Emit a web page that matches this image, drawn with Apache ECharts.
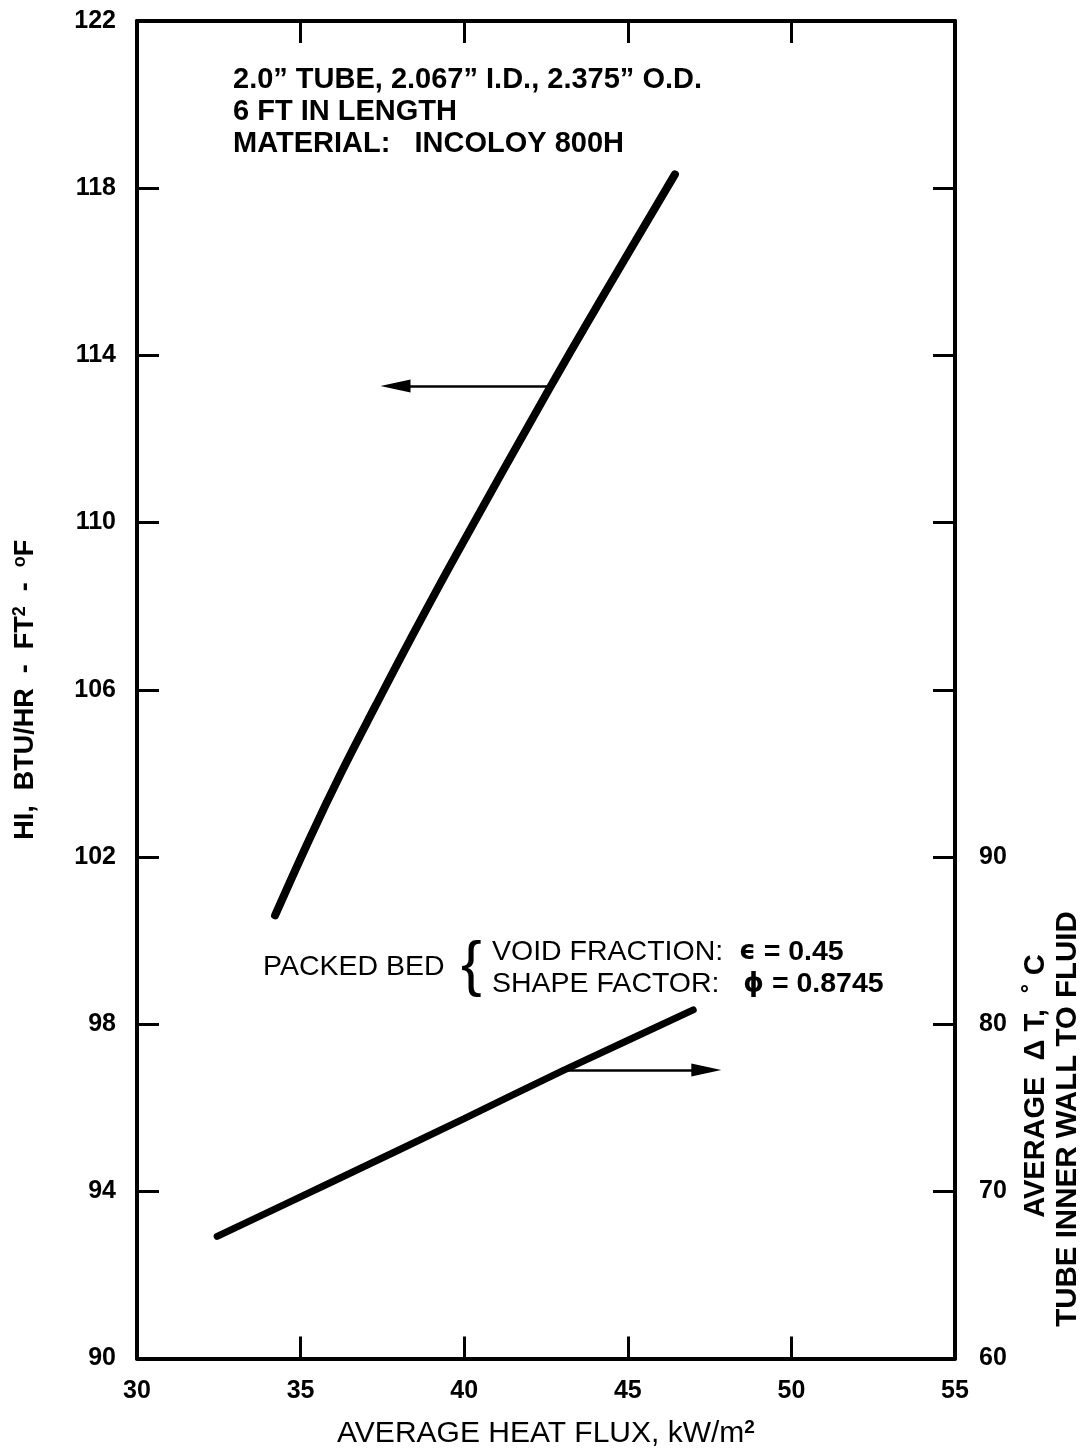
<!DOCTYPE html>
<html>
<head>
<meta charset="utf-8">
<script src="https://cdn.jsdelivr.net/npm/echarts@6/dist/echarts.min.js"></script>
<style>
html,body{margin:0;padding:0;background:#fff;}
#chart{width:1090px;height:1454px;}
</style>
</head>
<body>
<div id="chart"></div>
<script>
// ---- data ----
const xTicks = [30, 35, 40, 45, 50, 55];
const leftTicks = [90, 94, 98, 102, 106, 110, 114, 118, 122];
const rightTickLabels = [60, 70, 80, 90];
// HI (left axis) vs average heat flux
const hiCurve = [[34.22,100.6],[35.29,102.46],[36.27,104.06],[37.30,105.63],[38.37,107.23],[39.74,109.21],[42.65,113.27],[44.31,115.51],[46.44,118.33]];
// average delta T (right axis) vs average heat flux
const dtCurve = [[32.45,67.3],[36.0,70.6],[40.0,74.35],[43.0,77.2],[47.0,80.85]];
// pointer arrows (from curve towards its axis)
const hiArrow = [[42.65,113.27],[37.9,113.27]];
const dtArrow = [[43.0,77.25],[47.4,77.25]];

const FF = '"Liberation Sans", Arial, Helvetica, sans-serif';
const chart = echarts.init(document.getElementById('chart'), null, {renderer:'canvas'});

const axisLine = {show:true, onZero:false, lineStyle:{color:'#000', width:4}};
const axisTick = {show:true, inside:true, length:22, lineStyle:{color:'#000', width:3}};
const tickLabel = {color:'#000', fontSize:25, fontWeight:'bold', fontFamily:FF};

const option = {
  animation:false,
  backgroundColor:'#fff',
  grid:{left:137, right:135, top:21, bottom:92, containLabel:false},
  xAxis:[
    {type:'value', position:'bottom', min:xTicks[0], max:xTicks[xTicks.length-1], interval:5,
     axisLine, axisTick, splitLine:{show:false},
     axisLabel:Object.assign({margin:20}, tickLabel),
     name:'AVERAGE HEAT FLUX, kW/m{sup|2}', nameLocation:'middle', nameGap:60,
     nameTextStyle:{color:'#000', fontSize:30, fontFamily:FF, fontWeight:'normal',
       rich:{sup:{fontSize:19, fontWeight:'bold', verticalAlign:'top', padding:[0,0,12,0], fontFamily:FF, color:'#000'}}}},
    {type:'value', position:'top', min:xTicks[0], max:xTicks[xTicks.length-1], interval:5,
     axisLine, axisTick, splitLine:{show:false}, axisLabel:{show:false}}
  ],
  yAxis:[
    {type:'value', position:'left', min:leftTicks[0], max:leftTicks[leftTicks.length-1], interval:4,
     axisLine, axisTick, splitLine:{show:false},
     axisLabel:Object.assign({margin:21}, tickLabel),
     name:'HI,  BTU/HR  -  FT{sup|2}  -  {sup|o}F', nameLocation:'middle', nameGap:96,
     nameTextStyle:{color:'#000', fontSize:27, fontWeight:'bold', fontFamily:FF,
       rich:{sup:{fontSize:18, fontWeight:'bold', verticalAlign:'top', padding:[0,0,12,0], fontFamily:FF, color:'#000'}}}},
    {type:'value', position:'right', min:60, max:140, interval:10,
     axisLine, axisTick, splitLine:{show:false},
     axisLabel:Object.assign({margin:24, formatter:function(v){return rightTickLabels.indexOf(v)>=0 ? String(v) : '';}}, tickLabel)}
  ],
  series:[
    {type:'line', xAxisIndex:0, yAxisIndex:0, data:hiCurve, smooth:0.4, showSymbol:false, symbol:'none',
     lineStyle:{color:'#000', width:8, cap:'round'}, silent:true},
    {type:'line', xAxisIndex:0, yAxisIndex:1, data:dtCurve, smooth:0.2, showSymbol:false, symbol:'none',
     lineStyle:{color:'#000', width:7, cap:'round'}, silent:true},
    {type:'line', xAxisIndex:0, yAxisIndex:0, data:[], silent:true,
     markLine:{silent:true, symbol:['none','triangle'], symbolSize:[13,30], label:{show:false},
       lineStyle:{color:'#000', width:2.5, type:'solid'},
       data:[[{coord:hiArrow[0]},{coord:hiArrow[1]}]]}},
    {type:'line', xAxisIndex:0, yAxisIndex:1, data:[], silent:true,
     markLine:{silent:true, symbol:['none','triangle'], symbolSize:[13,30], label:{show:false},
       lineStyle:{color:'#000', width:2.5, type:'solid'},
       data:[[{coord:dtArrow[0]},{coord:dtArrow[1]}]]}}
  ],
  graphic:[
    {type:'text', left:233, top:64, silent:true,
     style:{text:'2.0\u201D TUBE, 2.067\u201D I.D., 2.375\u201D O.D.\n6 FT IN LENGTH\nMATERIAL:   INCOLOY 800H',
       fontSize:29, fontWeight:'bold', fontFamily:FF, lineHeight:32, fill:'#000'}},
    {type:'text', left:263, top:953, silent:true,
     style:{text:'PACKED BED', fontSize:28.5, fontFamily:FF, fill:'#000'}},
    {type:'text', left:461, top:936, silent:true,
     style:{text:'{', fontSize:62, fontFamily:FF, fill:'#000'}},
    {type:'text', left:492, top:936, silent:true,
     style:{text:'VOID FRACTION:  {g|\u03F5} {b|= 0.45}\nSHAPE FACTOR:   {g|\u03D5} {b|= 0.8745}',
       fontSize:28.5, fontFamily:FF, lineHeight:32, fill:'#000',
       rich:{b:{fontSize:28.5, fontWeight:'bold', fontFamily:FF, fill:'#000'},
             g:{fontSize:26, fontWeight:'bold', fontFamily:'"DejaVu Sans", sans-serif', fill:'#000'}}}},
    {type:'text', x:1036, y:1086, rotation:Math.PI/2, silent:true,
     style:{text:'AVERAGE  \u0394 T,  \u02DA C', align:'center', verticalAlign:'middle',
       fontSize:29, fontWeight:'bold', fontFamily:FF, fill:'#000'}},
    {type:'text', x:1068, y:1119, rotation:Math.PI/2, silent:true,
     style:{text:'TUBE INNER WALL TO FLUID', align:'center', verticalAlign:'middle',
       fontSize:29.5, fontWeight:'bold', fontFamily:FF, fill:'#000'}}
  ]
};
chart.setOption(option);
</script>
</body>
</html>
